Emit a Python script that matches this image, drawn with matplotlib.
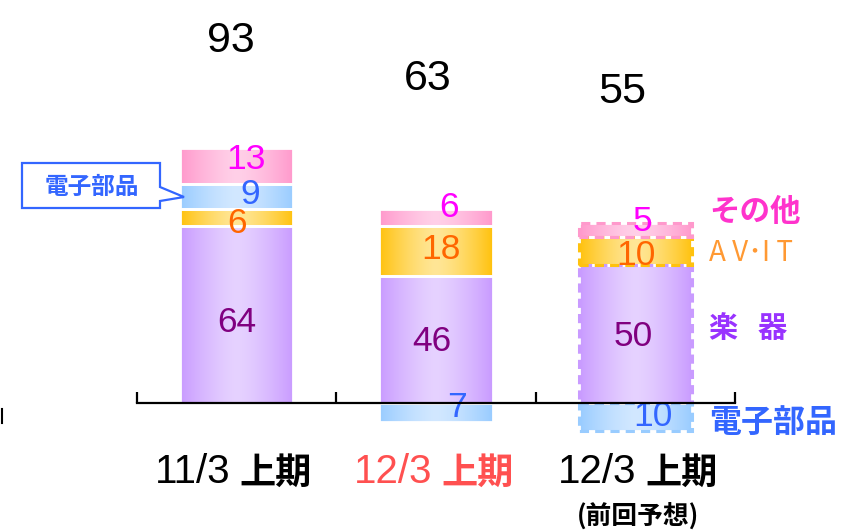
import numpy as np
import matplotlib
matplotlib.use("Agg")
import matplotlib.pyplot as plt
from matplotlib.patches import Polygon, Rectangle
from matplotlib.lines import Line2D
from matplotlib.colors import to_rgb

plt.rcParams['font.family'] = ['Liberation Sans', 'Noto Sans CJK JP', 'DejaVu Sans']

# data
periods = ['11/3', '12/3', '12/3']
period_suffix = '上期'
period_colors = ['black', '#FF5050', 'black']
forecast_note = '(前回予想)'
denshi = np.array([9, -7, -10])   # 電子部品
gakki = np.array([64, 46, 50])    # 楽器
avit = np.array([6, 18, 10])      # AV・IT
other = np.array([13, 6, 5])      # その他
totals = [93, 63, 55]
seg_names = ['電子部品', '楽   器', 'A V･I T', 'その他']

W, H = 847, 531
S = 2.77           # px per unit
AX_Y0 = 403        # pixel row of zero line
YMIN, YMAX = -45, 145
PT = 0.72          # px -> pt at dpi 100

fig = plt.figure(figsize=(W / 100, H / 100), dpi=100)
ax_bottom = (H - AX_Y0) - (-YMIN) * S
ax = fig.add_axes([137 / W, ax_bottom / H, 598 / W, (YMAX - YMIN) * S / H])

x = np.arange(len(periods))
width = 0.57

pos_base = gakki + avit
denshi_bottom = np.where(denshi > 0, pos_base, 0)
other_bottom = pos_base + np.clip(denshi, 0, None)

# (values, bottoms, edge colour, centre colour, text colour)
layers = [
    (gakki, np.zeros(3), '#C99BFF', '#E6D2FF', '#800080'),
    (avit, gakki, '#FFC20E', '#FFE696', '#FF6600'),
    (denshi, denshi_bottom, '#99CCFF', '#D2E8FF', '#3366FF'),
    (other, other_bottom, '#FF99CC', '#FFD0E8', '#FF00FF'),
]

# label offsets (px, right/down) per layer per bar
lbl_off = [
    [(0, 8), (-4, 2), (-2, 3)],
    [(0, 6), (5, -1), (1, 5)],
    [(14, -2), (21, -5), (18, 0)],
    [(9, -7), (13, -10), (7, -8)],
]


def grad(edge, center, n=80):
    t = np.abs(np.linspace(-1, 1, n)) ** 1.4
    e, c = np.array(to_rgb(edge)), np.array(to_rgb(center))
    return (c[None, :] + (e - c)[None, :] * t[:, None])[None, :, :]


for li, (vals, bottoms, ec, cc, tc) in enumerate(layers):
    bars = ax.bar(x, vals, width=width, bottom=bottoms, facecolor='none',
                  edgecolor='white', linewidth=2, zorder=3)
    img = grad(ec, cc)
    for i, p in enumerate(bars.patches):
        x0, y0, w, h = p.get_x(), p.get_y(), p.get_width(), p.get_height()
        im = ax.imshow(img, extent=(x0, x0 + w, min(y0, y0 + h), max(y0, y0 + h)),
                       aspect='auto', zorder=2, interpolation='bilinear')
        im.set_clip_path(p)
        if i == 2:
            ax.add_patch(Rectangle((x0, y0), w, h, facecolor='none', edgecolor=ec,
                                   linewidth=2.2, linestyle=(0, (3, 2)), zorder=4))
        dx, dy = lbl_off[li][i]
        ax.annotate(str(abs(vals[i])), xy=(x[i], y0 + h / 2), xytext=(dx * PT, -dy * PT),
                    textcoords='offset points', ha='center', va='center',
                    fontsize=25.5, color=tc, zorder=5)

# totals
tot_off = [(-6, 107), (-8, 130), (-13, 131)]
tops = other_bottom + other
for i, t in enumerate(totals):
    ax.annotate(str(t), xy=(x[i], tops[i]), xytext=(tot_off[i][0] * PT, tot_off[i][1] * PT),
                textcoords='offset points', ha='center', va='center', fontsize=31, color='black')

# category labels
cat_dx = [-6, -4, 1]
for i, per in enumerate(periods):
    ax.annotate(per, xy=(x[i], 0), xytext=(cat_dx[i] * PT, -69 * PT), textcoords='offset points',
                ha='right', va='center', fontsize=29, color=period_colors[i],
                family='Liberation Sans')
    ax.annotate(period_suffix, xy=(x[i], 0), xytext=((cat_dx[i] + 9) * PT, -70 * PT),
                textcoords='offset points', ha='left', va='center', fontsize=26,
                fontweight='bold', color=period_colors[i], family='Noto Sans CJK JP')
ax.annotate(forecast_note, xy=(x[2], 0), xytext=(3 * PT, -113 * PT), textcoords='offset points',
            ha='center', va='center', fontsize=18.5, fontweight='bold', color='black',
            family='Noto Sans CJK JP')

# right-hand segment names, next to the forecast bar
seg_vals = [denshi, gakki, avit, other]
seg_bottoms = [denshi_bottom, np.zeros(3), gakki, other_bottom]
seg_colors = ['#3366FF', '#9933FF', '#FF9933', '#FF33CC']
seg_dy = [6, -6, 2, -18]
seg_w = ['bold', 'bold', 'normal', 'bold']
seg_fs = [23, 21, 20, 22]
for k in range(4):
    yc = seg_bottoms[k][2] + seg_vals[k][2] / 2
    ax.annotate(seg_names[k], xy=(x[2], yc), xytext=(74 * PT, -seg_dy[k] * PT),
                textcoords='offset points', ha='left', va='center', fontsize=seg_fs[k],
                fontweight=seg_w[k], color=seg_colors[k], family='Noto Sans CJK JP',
                annotation_clip=False)

# axis
ax.set_xlim(-0.5, 2.5)
ax.set_ylim(YMIN, YMAX)
for s in ['top', 'right', 'left']:
    ax.spines[s].set_visible(False)
ax.spines['bottom'].set_position(('data', 0))
ax.spines['bottom'].set_linewidth(1.6)
ax.spines['bottom'].set_zorder(6)
ax.set_xticks([-0.5, 0.5, 1.5, 2.5])
ax.set_xticklabels([])
ax.tick_params(axis='x', direction='in', length=8, width=1.6)
ax.set_yticks([])
ax.patch.set_alpha(0)


# callout box for 電子部品 on first bar
def fp(px, py):
    return (px / W, 1 - py / H)


call = Polygon([fp(22, 163), fp(160, 163), fp(160, 187), fp(184, 197), fp(160, 201),
                fp(160, 208), fp(22, 208)], closed=True, transform=fig.transFigure,
               facecolor='white', edgecolor='#3366FF', linewidth=1.6, zorder=10)
fig.add_artist(call)
fig.text(92 / W, 1 - 187 / H, '電子部品', ha='center', va='center', fontsize=17,
         fontweight='bold', color='#3366FF', family='Noto Sans CJK JP', zorder=11)

fig.add_artist(Line2D([1.5 / W, 1.5 / W], [1 - 409 / H, 1 - 423 / H], color='black',
                      linewidth=1.5, transform=fig.transFigure))

fig.savefig('out.png', dpi=100)
